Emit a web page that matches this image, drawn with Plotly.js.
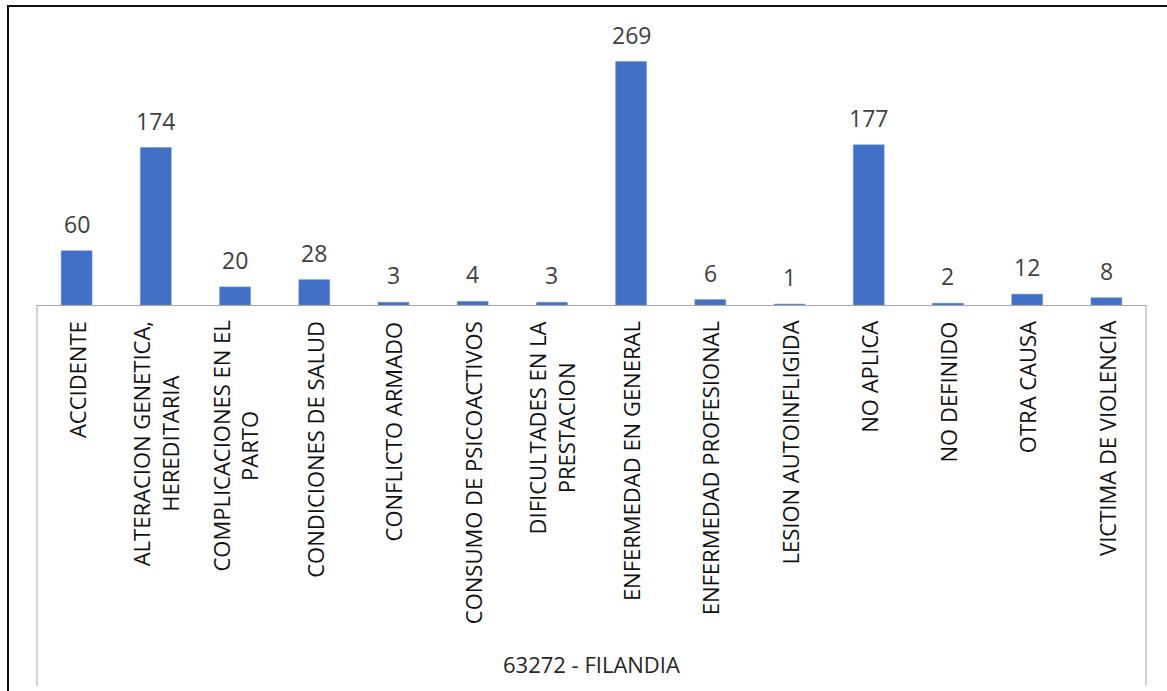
<!DOCTYPE html>
<html>
<head>
<meta charset="utf-8">
<script src="https://cdn.plot.ly/plotly-3.0.1.min.js"></script>
<style>
  html, body { margin: 0; padding: 0; background: #fff; overflow: hidden; }
  #chart { width: 1167px; height: 691px; }
  #frame { position: fixed; left: 7px; top: 5px; width: 2000px; height: 2000px;
           border: 2px solid #111; pointer-events: none; }
</style>
</head>
<body>
<div id="chart"></div>
<div id="frame"></div>
<script>
const categories = [
  "ACCIDENTE",
  "ALTERACION GENETICA,<br>HEREDITARIA",
  "COMPLICACIONES EN EL<br>PARTO",
  "CONDICIONES DE SALUD",
  "CONFLICTO ARMADO",
  "CONSUMO DE PSICOACTIVOS",
  "DIFICULTADES EN LA<br>PRESTACION",
  "ENFERMEDAD EN GENERAL",
  "ENFERMEDAD PROFESIONAL",
  "LESION AUTOINFLIGIDA",
  "NO APLICA",
  "NO DEFINIDO",
  "OTRA CAUSA",
  "VICTIMA DE VIOLENCIA"
];
const values = [60, 174, 20, 28, 3, 4, 3, 269, 6, 1, 177, 2, 12, 8];
const groupLabel = "63272 - FILANDIA";

const FONT = "Open Sans, Noto Sans, sans-serif";

const trace = {
  type: "bar",
  x: categories,
  y: values,
  marker: { color: "#4170c6", line: { color: "#6a8fd6", width: 0.5 } },
  hoverinfo: "skip"
};

const annotations = values.map((v, i) => ({
  x: categories[i], y: v, xref: "x", yref: "y",
  text: String(v), showarrow: false,
  yanchor: "middle", yshift: 27,
  font: { family: FONT, size: 23, color: "#404040" }
}));
categories.forEach((c) => {
  annotations.push({
    x: c, y: 0, xref: "x", yref: "y",
    text: c, showarrow: false, textangle: -90,
    align: "center", xanchor: "center", yanchor: "top", yshift: -14,
    font: { family: FONT, size: 22, color: "#111" }
  });
});
annotations.push({
  x: 0.5, y: -1.26, xref: "paper", yref: "paper",
  text: groupLabel, showarrow: false, yanchor: "middle",
  font: { family: FONT, size: 22, color: "#262626" }
});

const layout = {
  width: 1167, height: 691,
  margin: { l: 37, r: 21, t: 20, b: 386 },
  paper_bgcolor: "#fff", plot_bgcolor: "#fff",
  showlegend: false,
  bargap: 0.61,
  xaxis: {
    type: "category",
    showticklabels: false,
    ticks: "",
    showline: true, linecolor: "#a6a6a6", linewidth: 1,
    showgrid: false, zeroline: false
  },
  yaxis: {
    range: [0, 315],
    visible: false,
    showgrid: false, zeroline: false, fixedrange: true
  },
  annotations: annotations,
  shapes: [
    { type: "line", xref: "paper", yref: "paper", x0: 0, x1: 0, y0: 0, y1: -1.337,
      line: { color: "#a6a6a6", width: 1 } },
    { type: "line", xref: "paper", yref: "paper", x0: 1, x1: 1, y0: 0, y1: -1.337,
      line: { color: "#a6a6a6", width: 1 } }
  ]
};

Plotly.newPlot("chart", [trace], layout, { staticPlot: true, displayModeBar: false });
</script>
</body>
</html>
